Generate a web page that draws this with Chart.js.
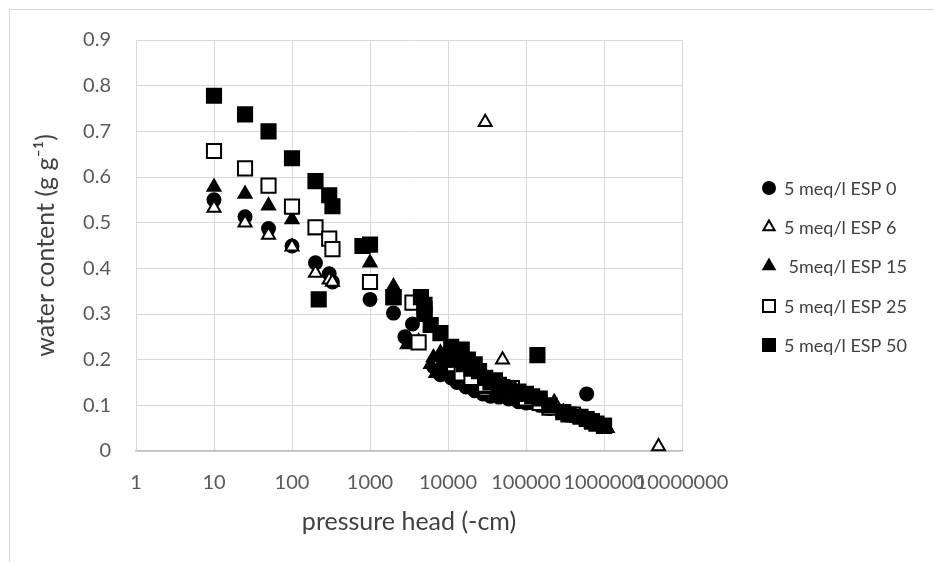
<!DOCTYPE html>
<html>
<head>
<meta charset="utf-8">
<script src="https://cdn.jsdelivr.net/npm/chart.js@4/dist/chart.umd.min.js"></script>
<style>
  html, body { margin: 0; padding: 0; background: #fff; overflow: hidden; }
  #frame { position: absolute; left: 9px; top: 9px; width: 1100px; height: 800px; border: 1px solid #d9d9d9; background: #fff; }
  #wrap { position: absolute; left: 0; top: 0; width: 934px; height: 562px; }
</style>
</head>
<body>
<div id="frame"></div>
<div id="wrap"><canvas id="chart" width="934" height="562"></canvas></div>
<script>
// Water retention data
const seriesNames = ["5 meq/l ESP 0", "5 meq/l ESP 6", " 5meq/l ESP 15", "5 meq/l ESP 25", "5 meq/l ESP 50"];

const esp0X = [10, 25, 50, 100, 200, 300, 330, 1000, 2000, 2800, 3500, 6500, 8000, 9000, 11000, 13000, 17000, 22000, 28000, 35000, 45000, 60000, 80000, 100000, 150000, 200000, 300000, 400000, 600000, 700000, 900000];
const esp0Y = [0.55, 0.513, 0.487, 0.449, 0.412, 0.388, 0.37, 0.332, 0.302, 0.25, 0.278, 0.185, 0.167, 0.175, 0.16, 0.15, 0.14, 0.132, 0.125, 0.12, 0.118, 0.114, 0.108, 0.105, 0.1, 0.093, 0.085, 0.077, 0.125, 0.066, 0.057];

const esp6X = [10, 25, 50, 100, 200, 300, 330, 1000, 2000, 4200, 7000, 10000, 15000, 20000, 30000, 30000, 50000, 70000, 100000, 150000, 230000, 300000, 500000, 800000, 1100000, 5000000];
const esp6Y = [0.532, 0.50, 0.473, 0.447, 0.39, 0.375, 0.37, 0.365, 0.34, 0.24, 0.19, 0.18, 0.16, 0.15, 0.13, 0.72, 0.20, 0.12, 0.11, 0.10, 0.107, 0.085, 0.075, 0.06, 0.05, 0.01];

const esp15X = [10, 25, 50, 100, 200, 300, 330, 1000, 2000, 3000, 6000, 6500, 7000, 8000, 9000, 10000, 11000, 13000, 15000, 18000, 20000, 25000, 30000, 40000, 50000, 70000, 100000, 120000, 200000, 300000, 500000, 800000, 1000000];
const esp15Y = [0.578, 0.563, 0.537, 0.507, 0.483, 0.462, 0.45, 0.412, 0.36, 0.233, 0.19, 0.205, 0.17, 0.215, 0.18, 0.225, 0.195, 0.17, 0.185, 0.155, 0.165, 0.14, 0.135, 0.125, 0.12, 0.11, 0.105, 0.1, 0.095, 0.085, 0.07, 0.06, 0.055];

const esp25X = [10, 25, 50, 100, 200, 300, 330, 1000, 2000, 3500, 4200, 5000, 9000, 12000, 15000, 20000, 30000, 50000, 66000, 100000, 150000, 200000, 400000, 700000, 1000000];
const esp25Y = [0.657, 0.619, 0.581, 0.535, 0.49, 0.465, 0.442, 0.37, 0.337, 0.325, 0.238, 0.31, 0.2, 0.19, 0.17, 0.16, 0.145, 0.14, 0.138, 0.115, 0.105, 0.095, 0.08, 0.065, 0.055];

const esp50X = [10, 25, 50, 100, 200, 220, 300, 330, 800, 1000, 2000, 4500, 5000, 5000, 6000, 8000, 9000, 10000, 11000, 12000, 13000, 15000, 16000, 18000, 20000, 22000, 25000, 30000, 35000, 40000, 45000, 50000, 60000, 80000, 100000, 120000, 140000, 150000, 200000, 300000, 350000, 500000, 600000, 700000, 800000, 1000000];
const esp50Y = [0.778, 0.737, 0.70, 0.641, 0.591, 0.332, 0.56, 0.536, 0.449, 0.452, 0.337, 0.337, 0.32, 0.30, 0.276, 0.258, 0.2, 0.21, 0.228, 0.2, 0.215, 0.222, 0.19, 0.2, 0.18, 0.19, 0.175, 0.16, 0.15, 0.155, 0.145, 0.13, 0.135, 0.13, 0.125, 0.12, 0.21, 0.115, 0.1, 0.085, 0.08, 0.075, 0.07, 0.065, 0.06, 0.055];

const xTicks = [1, 10, 100, 1000, 10000, 100000, 1000000, 10000000];
const xTickLabels = ["1", "10", "100", "1000", "10000", "100000", "1000000", "10000000"];
const yTicks = [0, 0.1, 0.2, 0.3, 0.4, 0.5, 0.6, 0.7, 0.8, 0.9];

const FONT = "Lato, 'Open Sans', sans-serif";

function pts(xs, ys) {
  return xs.map((x, i) => ({ x: x, y: ys[i] }));
}

const styles = [
  { pointStyle: "circle", radius: 6.5, fill: "#000", legendRadius: 6 },
  { pointStyle: "triangle", radius: 7.5, fill: "#fff", legendRadius: 6.5 },
  { pointStyle: "triangle", radius: 7.5, fill: "#000", legendRadius: 6.5 },
  { pointStyle: "rect", radius: 10, fill: "#fff", legendRadius: 8.5 },
  { pointStyle: "rect", radius: 10, fill: "#000", legendRadius: 8.5 }
];
const allX = [esp0X, esp6X, esp15X, esp25X, esp50X];
const allY = [esp0Y, esp6Y, esp15Y, esp25Y, esp50Y];

const datasets = seriesNames.map((name, i) => ({
  label: name,
  data: pts(allX[i], allY[i]),
  pointStyle: styles[i].pointStyle,
  pointRadius: styles[i].radius,
  pointHoverRadius: styles[i].radius,
  pointBackgroundColor: styles[i].fill,
  pointBorderColor: "#000",
  pointBorderWidth: 2,
  showLine: false,
  clip: false,
  order: 5 - i   // later series drawn on top, like Excel
}));

// legend drawn by hand so it sits where Excel put it
const sideLegend = {
  id: "sideLegend",
  afterDraw(chart) {
    const ctx = chart.ctx;
    const rows = [188, 227, 266, 306, 345];
    ctx.save();
    ctx.font = "18px " + FONT;
    ctx.textBaseline = "middle";
    seriesNames.forEach((name, i) => {
      ctx.fillStyle = styles[i].fill;
      ctx.strokeStyle = "#000";
      ctx.lineWidth = 2;
      Chart.helpers.drawPoint(ctx, {
        pointStyle: styles[i].pointStyle,
        radius: styles[i].legendRadius,
        borderWidth: 2,
        rotation: 0
      }, 769, rows[i]);
      ctx.fillStyle = "#404040";
      ctx.fillText(name, 784, rows[i] + 1);
    });
    ctx.restore();
  }
};

Chart.defaults.font.family = FONT;

new Chart(document.getElementById("chart"), {
  type: "scatter",
  data: { datasets: datasets },
  options: {
    responsive: false,
    animation: false,
    events: [],
    layout: { padding: { left: 0, top: 40, right: 252, bottom: 0 } },
    plugins: {
      legend: { display: false },
      tooltip: { enabled: false }
    },
    scales: {
      x: {
        type: "logarithmic",
        min: 1,
        max: 10000000,
        afterBuildTicks: axis => { axis.ticks = xTicks.map(v => ({ value: v })); },
        afterFit: axis => { axis.height = 111; },
        grid: { color: "#d9d9d9", drawTicks: false },
        border: { color: "#bfbfbf", width: 1.5 },
        ticks: {
          autoSkip: false,
          maxRotation: 0,
          padding: 20,
          color: "#595959",
          font: { size: 20 },
          callback: v => xTickLabels[xTicks.indexOf(v)]
        },
        title: {
          display: true,
          text: "pressure head (-cm)",
          color: "#404040",
          font: { size: 25 },
          padding: { top: 0, bottom: 25 }
        }
      },
      y: {
        min: 0,
        max: 0.9,
        afterBuildTicks: axis => { axis.ticks = yTicks.map(v => ({ value: v })); },
        afterFit: axis => { axis.width = 136; },
        grid: { color: "#d9d9d9", drawTicks: false },
        border: { color: "#d9d9d9" },
        ticks: {
          padding: 25,
          color: "#595959",
          font: { size: 20 },
          callback: v => (v === 0 ? "0" : v.toFixed(1))
        },
        title: {
          display: true,
          text: "water content (g g\u207B\u00B9)",
          color: "#404040",
          font: { size: 25 },
          padding: { top: 31, bottom: 0 }
        }
      }
    }
  },
  plugins: [sideLegend]
});
</script>
</body>
</html>
